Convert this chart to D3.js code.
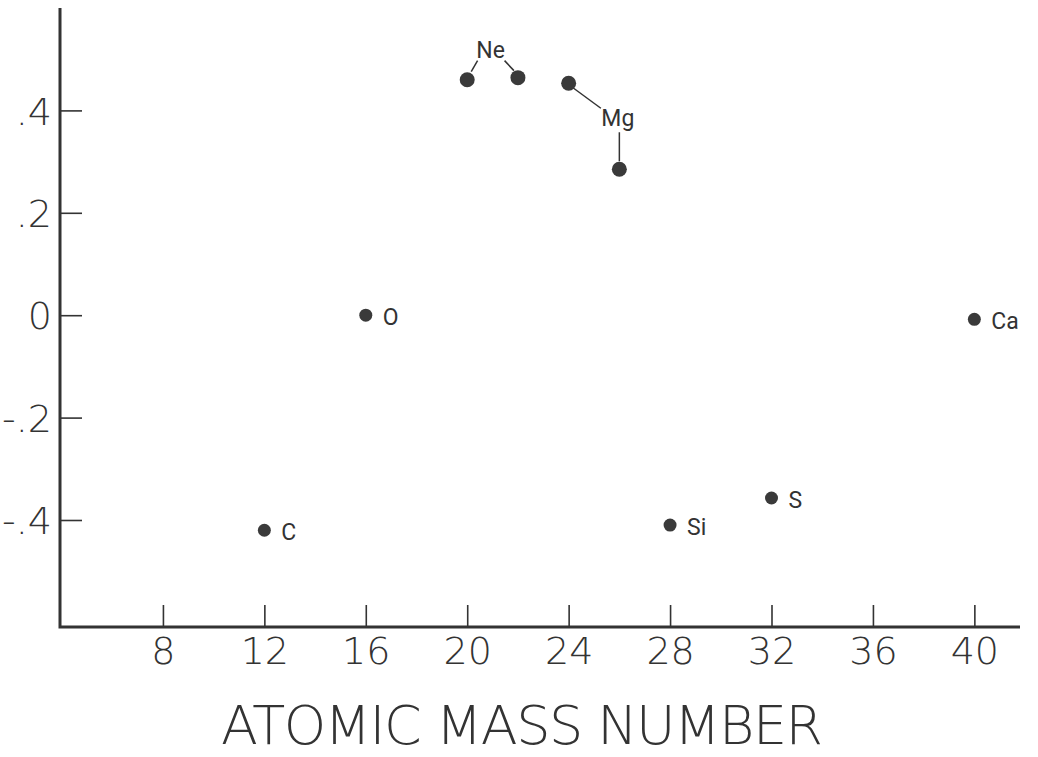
<!DOCTYPE html>
<html>
<head>
<meta charset="utf-8">
<script src="https://cdnjs.cloudflare.com/ajax/libs/d3/7.8.5/d3.min.js"></script>
<style>
  body { margin: 0; background: #fff; }
  svg { display: block; }
</style>
</head>
<body>
<svg id="drawing_region"></svg>
<script>
// data
var elements = ['C', 'O', 'Ne', 'Ne', 'Mg', 'Mg', 'Si', 'S', 'Ca'];
var massNumbers = [12, 16, 20, 22, 24, 26, 28, 32, 40];
var values = [-0.42, 0.0, 0.46, 0.464, 0.453, 0.285, -0.41, -0.357, -0.008];
var xTicks = [8, 12, 16, 20, 24, 28, 32, 36, 40];
var yTicks = [0.4, 0.2, 0, -0.2, -0.4];
var yTickLabels = ['.4', '.2', '0', '-.2', '-.4'];

var width = 1038;
var height = 757;
var ink = '#333';
var font = '"DejaVu Sans", sans-serif';
var labelFont = 'Roboto, "Liberation Sans", sans-serif';

var svg = d3.select('#drawing_region')
    .attr('width', width)
    .attr('height', height);

var x = d3.scaleLinear().domain([4, 41.8]).range([61.5, 1020]);
var y = d3.scaleLinear().domain([-0.609, 0.6]).range([627, 8]);

// axes (ticks point inward)
var xAxis = d3.axisBottom(x).tickValues(xTicks).tickSize(-22).tickFormat(d => d);
var yAxis = d3.axisLeft(y).tickValues(yTicks).tickSize(-22)
    .tickFormat((d, i) => yTickLabels[i]);

var gx = svg.append('g').attr('transform', `translate(0, ${y.range()[0]})`).call(xAxis);
var gy = svg.append('g').attr('transform', `translate(${x.range()[0] - 1.5}, 0)`).call(yAxis);

[gx, gy].forEach(g => {
    g.select('.domain').remove();
    g.selectAll('.tick line').attr('stroke', ink).attr('stroke-width', 1.6);
    g.selectAll('.tick text')
        .attr('fill', ink)
        .style('font-family', font)
        .style('font-weight', 200)
        .style('font-size', '38px');
});
gx.selectAll('.tick text').attr('dy', '0.71em').attr('y', 10);
gy.selectAll('.tick text').attr('x', -8).attr('dy', '0.36em');

// axis frame lines
svg.append('path')
    .attr('d', `M${x.range()[0] - 1.5},${y.range()[1]} V${y.range()[0]} H${x.range()[1]}`)
    .attr('fill', 'none')
    .attr('stroke', ink)
    .attr('stroke-width', 3);

// axis title
svg.append('text')
    .attr('x', 221)
    .attr('y', 744)
    .attr('textLength', 602)
    .attr('lengthAdjust', 'spacing')
    .attr('fill', ink)
    .style('font-family', font)
    .style('font-weight', 200)
    .style('font-size', '54px')
    .text('ATOMIC MASS NUMBER');

// points
var pts = massNumbers.map((m, i) => ({m: m, v: values[i], el: elements[i]}));
var big = d => d.el === 'Ne' || d.el === 'Mg';

svg.selectAll('circle.pt')
    .data(pts)
    .enter()
    .append('circle')
    .attr('class', 'pt')
    .attr('cx', d => x(d.m))
    .attr('cy', d => y(d.v))
    .attr('r', d => big(d) ? 7.5 : 6.5)
    .attr('fill', '#3a3a3a');

function label(sel) {
    return sel.attr('fill', ink)
        .style('font-family', labelFont)
        .style('font-size', '23px');
}

// simple labels to the right
label(svg.selectAll('text.lbl')
    .data(pts.filter(d => !big(d)))
    .enter()
    .append('text')
    .attr('class', 'lbl')
    .attr('x', d => x(d.m) + 17)
    .attr('y', d => y(d.v) + 10)
    .text(d => d.el));

// Ne label with leaders
var ne = pts.filter(d => d.el === 'Ne');
var neX = (x(ne[0].m) + x(ne[1].m)) / 2 - 2;
var neY = y(ne[1].v) - 20;
label(svg.append('text')
    .attr('x', neX).attr('y', neY)
    .attr('text-anchor', 'middle')
    .text('Ne'));
svg.append('line')
    .attr('x1', x(ne[0].m) + 4).attr('y1', y(ne[0].v) - 8)
    .attr('x2', neX - 13).attr('y2', neY + 3)
    .attr('stroke', ink).attr('stroke-width', 1.5);
svg.append('line')
    .attr('x1', x(ne[1].m) - 4).attr('y1', y(ne[1].v) - 7)
    .attr('x2', neX + 14).attr('y2', neY + 3)
    .attr('stroke', ink).attr('stroke-width', 1.5);

// Mg label with leaders
var mg = pts.filter(d => d.el === 'Mg');
var mgX = x(mg[1].m) - 1.5;
var mgY = y(mg[0].v) + 43;
label(svg.append('text')
    .attr('x', mgX).attr('y', mgY)
    .attr('text-anchor', 'middle')
    .text('Mg'));
svg.append('line')
    .attr('x1', x(mg[0].m) + 5).attr('y1', y(mg[0].v) + 5)
    .attr('x2', mgX - 17).attr('y2', mgY - 18)
    .attr('stroke', ink).attr('stroke-width', 1.5);
svg.append('line')
    .attr('x1', x(mg[1].m)).attr('y1', mgY + 6)
    .attr('x2', x(mg[1].m)).attr('y2', y(mg[1].v) - 8)
    .attr('stroke', ink).attr('stroke-width', 1.5);
</script>
</body>
</html>
